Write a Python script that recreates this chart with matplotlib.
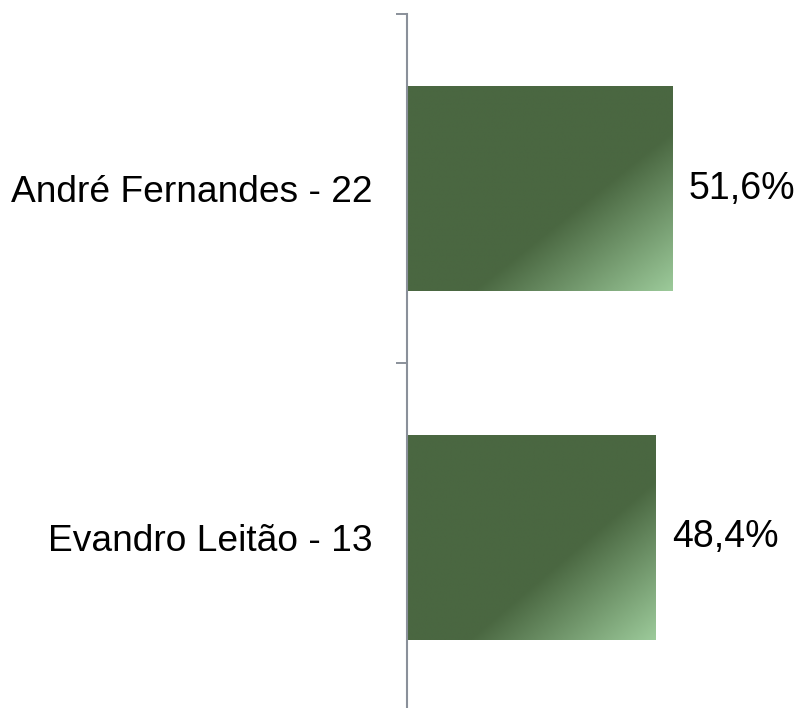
import numpy as np
import matplotlib
matplotlib.use("Agg")
from matplotlib import pyplot as plt
from matplotlib.colors import LinearSegmentedColormap

# data
candidates = ["André Fernandes - 22", "Evandro Leitão - 13"]
share = [51.6, 48.4]
value_labels = ["51,6%", "48,4%"]

plt.rcParams['font.family'] = ['Liberation Sans', 'DejaVu Sans']

W, H = 797, 708
fig = plt.figure(figsize=(W / 100, H / 100), dpi=100)
# axes spans y from 14 px (top) to 712 px (slightly below the figure edge)
ax = fig.add_axes([407 / W, (H - 712) / H, 360 / W, 698 / H])

dark = "#4a6741"
light = "#9cca9a"
cmap = LinearSegmentedColormap.from_list("g", [(0, dark), (0.62, dark), (1, light)])

# gradient image: diagonal toward bottom-right corner
u = np.linspace(0, 1, 300)
v = np.linspace(0, 1, 240)
U, V = np.meshgrid(u, v)
grad = 0.508 * U + 0.492 * V

pos = np.arange(len(candidates))
bh = 0.59
bars = ax.barh(pos, share, height=bh, color=dark, edgecolor="none")
for b, val in zip(bars, share):
    y0 = b.get_y()
    im = ax.imshow(grad, cmap=cmap, vmin=0, vmax=1, aspect="auto",
                   extent=(0, val, y0 + bh, y0), origin="upper",
                   interpolation="bilinear", zorder=2)
    im.set_clip_path(b)

for p, val, lab in zip(pos, share, value_labels):
    ax.annotate(lab, (val, p), xytext=(11.5, 0), textcoords="offset points",
                va="center", ha="left", fontsize=27, color="black")

ax.set_xlim(0, 70)
ax.set_ylim(1.5, -0.5)

ax.set_yticks(pos)
ax.set_yticklabels(candidates, fontsize=26.7)
ax.tick_params(axis="y", which="major", length=0, pad=25)
ax.set_yticks([-0.5, 0.5, 1.5], minor=True)
ax.tick_params(axis="y", which="minor", length=8, width=1.4, color="#8a909a")
ax.set_xticks([])

for s in ["top", "right", "bottom"]:
    ax.spines[s].set_visible(False)
ax.spines["left"].set_color("#8a909a")
ax.spines["left"].set_linewidth(1.5)

fig.savefig("out.png", dpi=100)
